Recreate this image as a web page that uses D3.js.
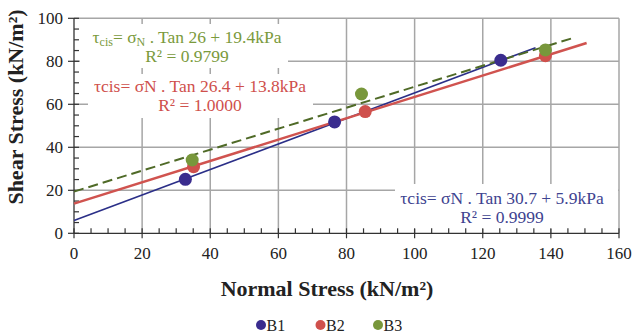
<!DOCTYPE html>
<html><head><meta charset="utf-8">
<script src="https://cdn.jsdelivr.net/npm/d3@7"></script>
<style>body{margin:0;background:#fff}svg{display:block}text{font-family:"Liberation Serif","Times New Roman",serif}</style>
</head><body><svg id="c" width="638" height="334"></svg>
<script>
// ---- data ----
const seriesNames = ["B1", "B2", "B3"];
const b1x = [32.7, 76.5, 125.3], b1y = [25.1, 51.8, 80.5];
const b2x = [35.1, 85.5, 138.4], b2y = [31.0, 56.6, 82.6];
const b3x = [34.7, 84.4, 138.4], b3y = [34.1, 64.8, 85.3];
// trendlines: tau = sigmaN * tan(angle) + c
const trendAngle = [30.7, 26.4, 26];
const trendC = [5.9, 13.8, 19.4];
const trendR2 = ["0.9999", "1.0000", "0.9799"];
const trendXEnd = [135.5, 150.5, 147];
const xTicks = [0, 20, 40, 60, 80, 100, 120, 140, 160];
const yTicks = [0, 20, 40, 60, 80, 100];

const colors = ["#3a2c8e", "#cf504c", "#78973b"];
const lineColors = ["#2b2f88", "#d0534f", "#4f6a27"];
const textColors = ["#3e4390", "#cf504c", "#7a9a3c"];

const svg = d3.select("#c");
const x = d3.scaleLinear().domain([0, 160]).range([74, 619]);
const y = d3.scaleLinear().domain([0, 100]).range([233.3, 18.3]);
const grid = "#a6a6a6";

// gridlines
svg.append("g").selectAll("line").data(xTicks.slice(1)).join("line")
  .attr("x1", d => x(d)).attr("x2", d => x(d)).attr("y1", y(0)).attr("y2", y(100))
  .attr("stroke", grid).attr("stroke-width", 1.5);
svg.append("g").selectAll("line").data(yTicks.slice(1)).join("line")
  .attr("x1", x(0)).attr("x2", x(160)).attr("y1", d => y(d)).attr("y2", d => y(d))
  .attr("stroke", grid).attr("stroke-width", 1.5);

// white label boxes
const boxes = [[395, 184, 223, 45], [88, 74, 225, 44], [80, 24, 208, 44]];
svg.append("g").selectAll("rect").data(boxes).join("rect")
  .attr("x", d => d[0]).attr("y", d => d[1]).attr("width", d => d[2]).attr("height", d => d[3])
  .attr("fill", "#fff");

// axes
const axisColor = "#333";
const ax = svg.append("g");
ax.append("line").attr("x1", x(0)).attr("x2", x(160)).attr("y1", y(0)).attr("y2", y(0)).attr("stroke", axisColor).attr("stroke-width", 1.3);
ax.append("line").attr("x1", x(0)).attr("x2", x(0)).attr("y1", y(0)).attr("y2", y(100)).attr("stroke", axisColor).attr("stroke-width", 1.3);
const xMinor = d3.range(0, 161, 5), yMinor = d3.range(0, 101, 5);
ax.selectAll(".xm").data(xMinor).join("line")
  .attr("x1", d => x(d)).attr("x2", d => x(d))
  .attr("y1", d => d % 20 === 0 ? y(0) + 5 : y(0)).attr("y2", y(0) - 5)
  .attr("stroke", axisColor).attr("stroke-width", 1.2);
ax.selectAll(".ym").data(yMinor).join("line")
  .attr("y1", d => y(d)).attr("y2", d => y(d))
  .attr("x1", d => d % 20 === 0 ? x(0) - 6 : x(0)).attr("x2", x(0) + 5)
  .attr("stroke", axisColor).attr("stroke-width", 1.2);
ax.selectAll(".xl").data(xTicks).join("text")
  .attr("x", d => x(d)).attr("y", 259).attr("text-anchor", "middle")
  .attr("font-size", 17).attr("fill", "#222").text(d => d);
ax.selectAll(".yl").data(yTicks).join("text")
  .attr("x", 63).attr("y", d => y(d) + 6).attr("text-anchor", "end")
  .attr("font-size", 17).attr("fill", "#222").text(d => d);

// axis titles
svg.append("text").attr("x", 327).attr("y", 296).attr("text-anchor", "middle")
  .attr("font-size", 22).attr("font-weight", "bold").attr("fill", "#222").text("Normal Stress (kN/m²)");
svg.append("text").attr("transform", "translate(23,107) rotate(-90)").attr("text-anchor", "middle")
  .attr("font-size", 22).attr("font-weight", "bold").attr("fill", "#222").text("Shear Stress (kN/m²)");

// trendlines
const dashes = [null, null, "10,5"];
const widths = [1.6, 2.5, 2];
trendAngle.forEach((a, i) => {
  const f = v => trendC[i] + Math.tan(a * Math.PI / 180) * v;
  svg.append("line").attr("x1", x(0)).attr("y1", y(f(0)))
    .attr("x2", x(trendXEnd[i])).attr("y2", y(f(trendXEnd[i])))
    .attr("stroke", lineColors[i]).attr("stroke-width", widths[i])
    .attr("stroke-dasharray", dashes[i]);
});

// points
const pts = [[b1x, b1y], [b2x, b2y], [b3x, b3y]];
pts.forEach((p, i) => {
  svg.append("g").selectAll("circle").data(p[0]).join("circle")
    .attr("cx", d => x(d)).attr("cy", (d, j) => y(p[1][j])).attr("r", 6.5)
    .attr("fill", colors[i]);
});

// equation labels
function eq(i, cx, by, subs) {
  const t = svg.append("text").attr("x", cx).attr("y", by).attr("text-anchor", "middle")
    .attr("font-size", 17.5).attr("fill", textColors[i]);
  if (subs) {
    t.append("tspan").text("τ");
    t.append("tspan").attr("font-size", 12).attr("dy", 3).text("cis");
    t.append("tspan").attr("dy", -3).text("= σ");
    t.append("tspan").attr("font-size", 12).attr("dy", 3).text("N");
    t.append("tspan").attr("dy", -3).text(" . Tan " + trendAngle[i] + " + " + trendC[i] + "kPa");
  } else {
    t.text("τcis= σN . Tan " + trendAngle[i] + " + " + trendC[i] + "kPa");
  }
  svg.append("text").attr("x", cx).attr("y", by + 19).attr("text-anchor", "middle")
    .attr("font-size", 17.5).attr("fill", textColors[i]).text("R² = " + trendR2[i]);
}
eq(2, 187, 43, true);
eq(1, 200, 92, false);
eq(0, 502, 204, false);

// legend
const legX = [261, 320.5, 378];
seriesNames.forEach((n, i) => {
  svg.append("circle").attr("cx", legX[i]).attr("cy", 325).attr("r", 5).attr("fill", colors[i]);
  svg.append("text").attr("x", legX[i] + 5.5).attr("y", 331).attr("font-size", 16).attr("fill", "#222").text(n);
});
</script></body></html>
